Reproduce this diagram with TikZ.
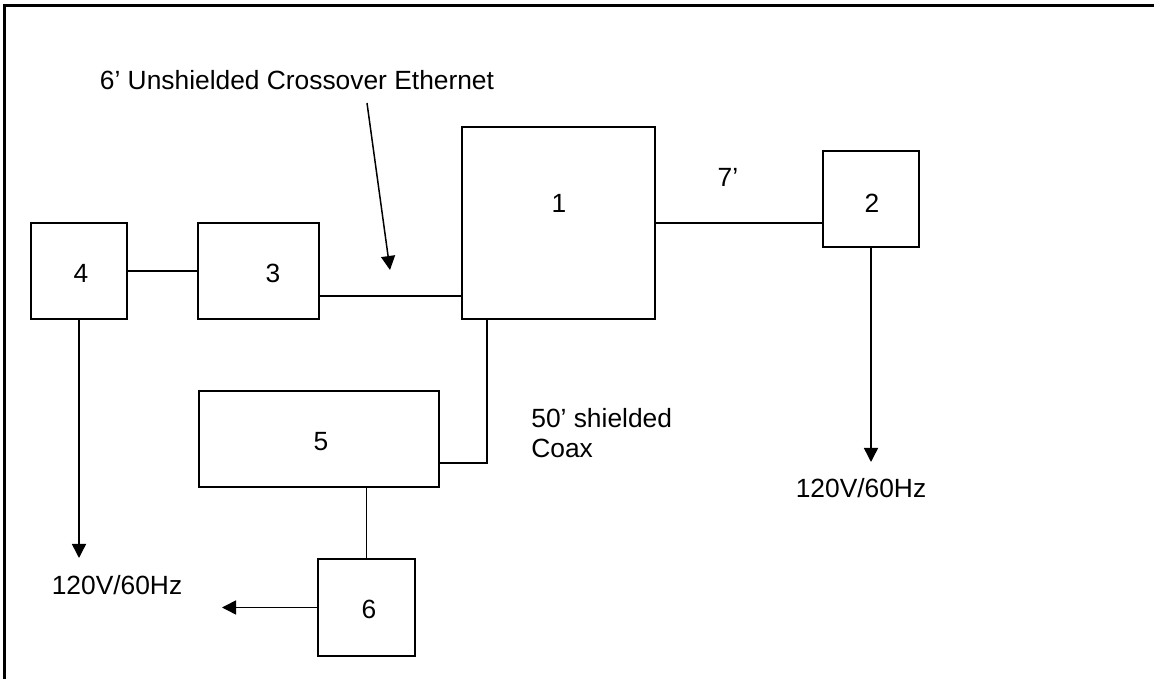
\documentclass[tikz,border=0pt]{standalone}
\usepackage{fontspec}
\setmainfont{Liberation Sans}
\usetikzlibrary{arrows.meta}

\tikzset{
  boite/.style={draw, line width=0.85pt, inner sep=0pt},
  texte/.style={inner sep=0pt, font=\fontsize{15pt}{17pt}\selectfont},
  fil/.style={line width=0.85pt},
  fleche/.style={line width=0.85pt, -{Triangle[length=0.28cm,width=0.28cm]}}
}

\begin{document}
\begin{tikzpicture}[scale=1]
\useasboundingbox (0,0) rectangle (23.08,-13.58);

% Cadre
\draw[line width=1.2pt] (0.09,-13.7) -- (0.09,-0.11) -- (23.2,-0.11);

% Boîtes
\node[boite, minimum width=3.86cm, minimum height=3.84cm] (b1) at (11.17,-4.46) {};
\node[boite, minimum width=1.92cm, minimum height=1.92cm] (b2) at (17.42,-3.98) {};
\node[boite, minimum width=2.42cm, minimum height=1.92cm] (b3) at (5.17,-5.42) {};
\node[boite, minimum width=1.92cm, minimum height=1.92cm] (b4) at (1.58,-5.42) {};
\node[boite, minimum width=4.8cm, minimum height=1.92cm] (b5) at (6.38,-8.78) {};
\node[boite, minimum width=1.94cm, minimum height=1.94cm] (b6) at (7.33,-12.15) {};

% Numéros
\node[texte] (t1) at (11.18,-4.06) {1};
\node[texte] (t2) at (17.44,-4.06) {2};
\node[texte] (t3) at (5.46,-5.46) {3};
\node[texte] (t4) at (1.62,-5.46) {4};
\node[texte] (t5) at (6.42,-8.84) {5};
\node[texte] (t6) at (7.38,-12.18) {6};

% Câbles
\draw[fil] (b4.east) -- (b3.west);
\coordinate (k31) at (0,-5.92);
\draw[fil] (k31 -| b3.east) -- (k31 -| b1.west);
\draw[fil] (b1.east) -- (b1.east -| b2.west);
\coordinate (k15) at (9.74,-9.26);
\draw[fil] (k15 |- b1.south) -- (k15) -- (k15 -| b5.east);
\draw[fil] (b6.north |- b5.south) -- (b6.north);

% Légendes des câbles
\node[texte] (eth) at (5.94,-1.6) {6’ Unshielded Crossover Ethernet};
\coordinate (eth1) at (7.34,-2.06);
\coordinate (eth2) at (7.8,-5.4);
\draw[fleche] (eth1) -- (eth2);
\node[texte] (l7) at (14.56,-3.54) {7’};
\node[texte, align=left, anchor=west] (coax) at (10.62,-8.67) {50’ shielded\\Coax};

% Alimentations
\coordinate (p2) at (17.42,-9.24);
\draw[fleche] (b2.south) -- (p2);
\node[texte] (a2) at (17.22,-9.76) {120V/60Hz};
\coordinate (p4) at (1.58,-11.16);
\draw[fleche] (b4.south) -- (p4);
\node[texte] (a4) at (2.34,-11.7) {120V/60Hz};
\coordinate (p6) at (4.44,-12.15);
\draw[fleche] (b6.west) -- (p6);

\end{tikzpicture}
\end{document}
